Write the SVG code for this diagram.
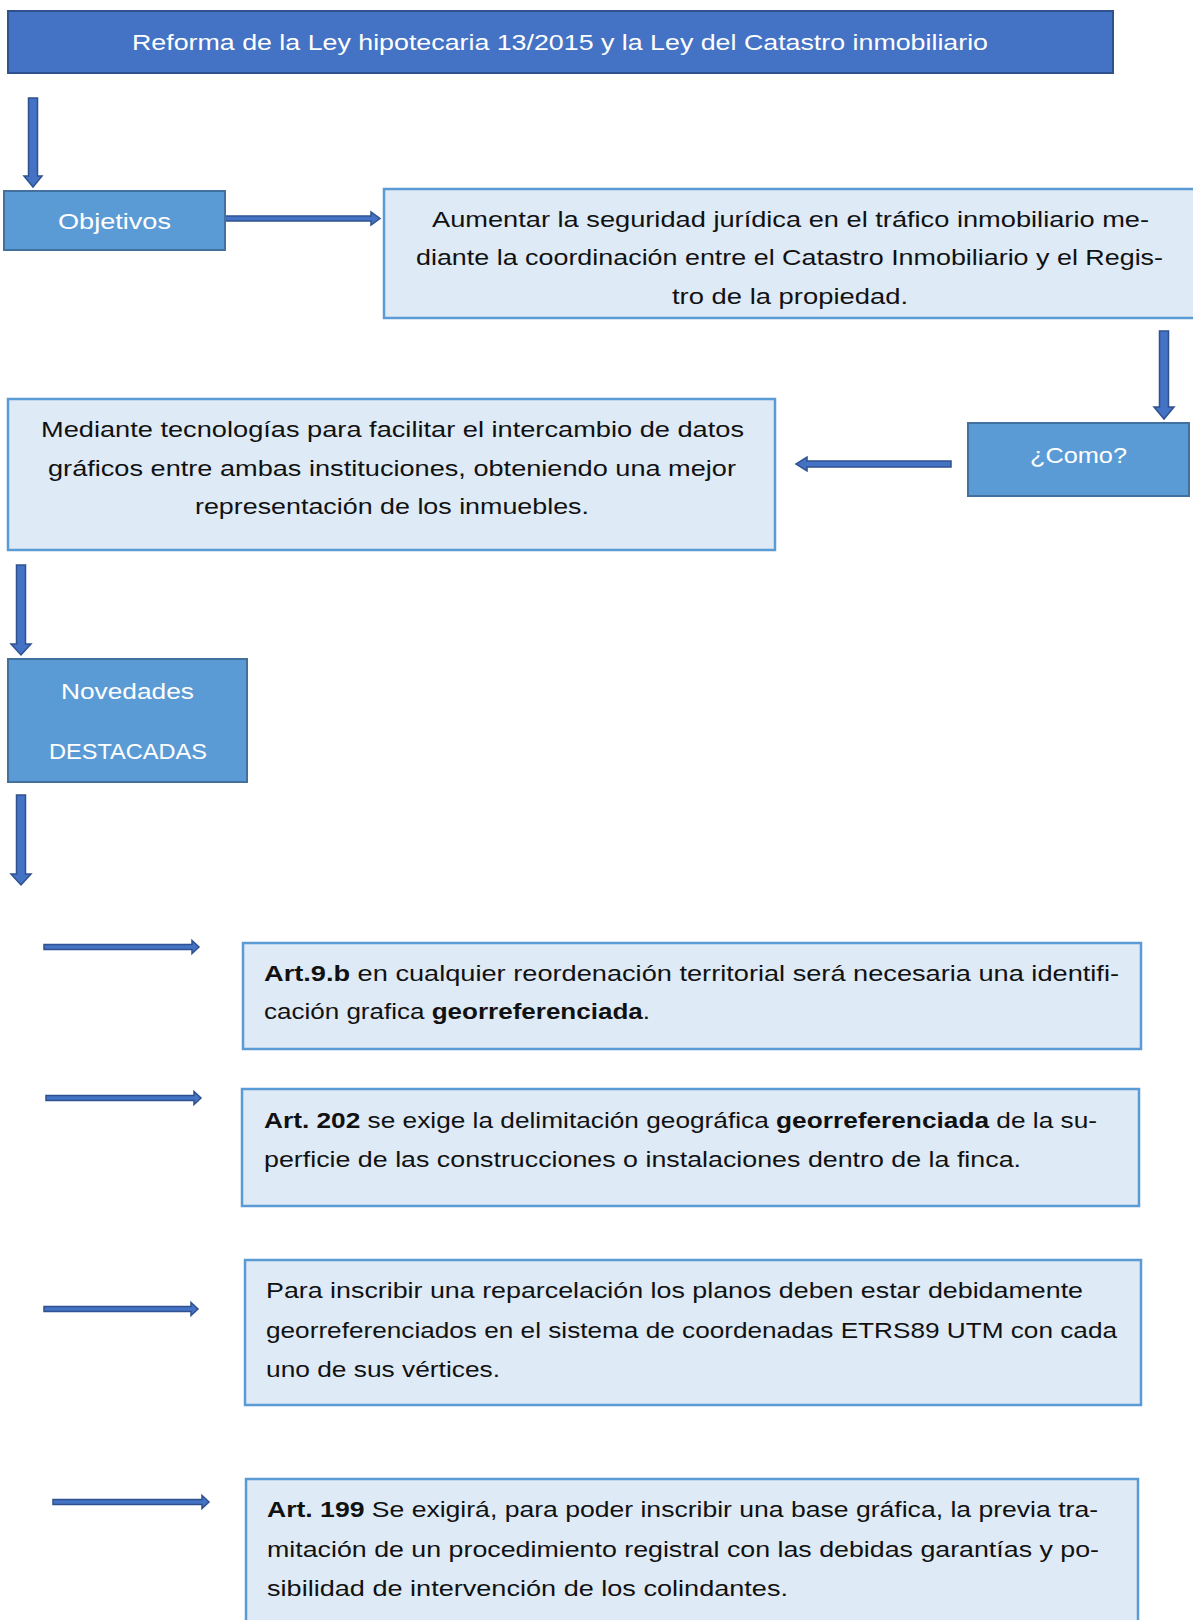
<svg xmlns="http://www.w3.org/2000/svg" width="1193" height="1620" viewBox="0 0 1193 1620">
<style>
.dark{fill:#4472C4;stroke:#2F528F;stroke-width:2}
.mid{fill:#5B9BD5;stroke:#41719C;stroke-width:2}
.light{fill:#DEEAF6;stroke:#5B9BD5;stroke-width:2.5}
.arr{fill:#4472C4;stroke:#2F528F;stroke-width:1.5}
text{font-family:"Liberation Sans","Noto Sans",Arial,sans-serif;font-size:22.5px}
.w{fill:#FFFFFF}
.k{fill:#111111}
.c{text-anchor:middle}
.b{font-weight:bold}
</style>
<rect width="1193" height="1620" fill="#FFFFFF"/>
<g id="connectors">
<polygon class="arr" points="28.5,98 37.5,98 37.5,176 42,176 33,187 24,176 28.5,176"/>
<polygon class="arr" points="225,216 371,216 371,212 380,218.5 371,225 371,221 225,221"/>
<polygon class="arr" points="1159.5,331 1168.5,331 1168.5,407 1174,407 1164,419 1154,407 1159.5,407"/>
<polygon class="arr" points="951,461 807,461 807,457 796,464 807,471 807,467 951,467"/>
<polygon class="arr" points="16.5,565 25.5,565 25.5,644 31,644 21,655 11,644 16.5,644"/>
<polygon class="arr" points="16.5,795 25.5,795 25.5,874 31,874 21,885 11,874 16.5,874"/>
<polygon class="arr" points="44,944.5 192,944.5 192,940.5 199,947 192,953.5 192,949.5 44,949.5"/>
<polygon class="arr" points="46,1095.5 194,1095.5 194,1091.5 201,1098 194,1104.5 194,1100.5 46,1100.5"/>
<polygon class="arr" points="44,1306.5 191,1306.5 191,1302.5 198,1309 191,1315.5 191,1311.5 44,1311.5"/>
<polygon class="arr" points="53,1499.5 202,1499.5 202,1495.5 209,1502 202,1508.5 202,1504.5 53,1504.5"/>
</g>
<g id="title">
<rect class="dark" x="8" y="11" width="1105" height="62"/>
<text class="w" x="132" y="50" textLength="856" lengthAdjust="spacingAndGlyphs" font-size="24">Reforma de la Ley hipotecaria 13/2015 y la Ley del Catastro inmobiliario</text>
</g>
<g id="objetivos">
<rect class="mid" x="4" y="191" width="221" height="59"/>
<text class="w" x="58" y="229" textLength="113" lengthAdjust="spacingAndGlyphs">Objetivos</text>
</g>
<g id="aumentar">
<rect class="light" x="384" y="189" width="812" height="129"/>
<text class="k" x="432" y="227" textLength="717" lengthAdjust="spacingAndGlyphs">Aumentar la seguridad jurídica en el tráfico inmobiliario me-</text>
<text class="k" x="416" y="265" textLength="747" lengthAdjust="spacingAndGlyphs">diante la coordinación entre el Catastro Inmobiliario y el Regis-</text>
<text class="k" x="672" y="304" textLength="236" lengthAdjust="spacingAndGlyphs">tro de la propiedad.</text>
</g>
<g id="como">
<rect class="mid" x="968" y="423" width="221" height="73"/>
<text class="w" x="1030" y="463" textLength="97" lengthAdjust="spacingAndGlyphs">¿Como?</text>
</g>
<g id="mediante">
<rect class="light" x="8" y="399" width="767" height="151"/>
<text class="k" x="41" y="437" textLength="703" lengthAdjust="spacingAndGlyphs">Mediante tecnologías para facilitar el intercambio de datos</text>
<text class="k" x="48" y="476" textLength="688" lengthAdjust="spacingAndGlyphs">gráficos entre ambas instituciones, obteniendo una mejor</text>
<text class="k" x="195" y="514" textLength="394" lengthAdjust="spacingAndGlyphs">representación de los inmuebles.</text>
</g>
<g id="novedades">
<rect class="mid" x="8" y="659" width="239" height="123"/>
<text class="w" x="61" y="699" textLength="133" lengthAdjust="spacingAndGlyphs">Novedades</text>
<text class="w" x="49" y="759" textLength="158" lengthAdjust="spacingAndGlyphs">DESTACADAS</text>
</g>
<g id="art9b">
<rect class="light" x="243" y="943" width="898" height="106"/>
<text class="k" x="264" y="981" textLength="855" lengthAdjust="spacingAndGlyphs"><tspan class="b">Art.9.b</tspan> en cualquier reordenación territorial será necesaria una identifi-</text>
<text class="k" x="264" y="1019" textLength="386" lengthAdjust="spacingAndGlyphs">cación grafica <tspan class="b">georreferenciada</tspan>.</text>
</g>
<g id="art202">
<rect class="light" x="242" y="1089" width="897" height="117"/>
<text class="k" x="264" y="1128" textLength="833" lengthAdjust="spacingAndGlyphs"><tspan class="b">Art. 202</tspan> se exige la delimitación geográfica <tspan class="b">georreferenciada</tspan> de la su-</text>
<text class="k" x="264" y="1167" textLength="757" lengthAdjust="spacingAndGlyphs">perficie de las construcciones o instalaciones dentro de la finca.</text>
</g>
<g id="reparcelacion">
<rect class="light" x="245" y="1260" width="896" height="145"/>
<text class="k" x="266" y="1298" textLength="817" lengthAdjust="spacingAndGlyphs">Para inscribir una reparcelación los planos deben estar debidamente</text>
<text class="k" x="266" y="1338" textLength="851" lengthAdjust="spacingAndGlyphs">georreferenciados en el sistema de coordenadas ETRS89 UTM con cada</text>
<text class="k" x="266" y="1377" textLength="234" lengthAdjust="spacingAndGlyphs">uno de sus vértices.</text>
</g>
<g id="art199">
<rect class="light" x="246" y="1479" width="892" height="160"/>
<text class="k" x="267" y="1517" textLength="831" lengthAdjust="spacingAndGlyphs"><tspan class="b">Art. 199</tspan> Se exigirá, para poder inscribir una base gráfica, la previa tra-</text>
<text class="k" x="267" y="1557" textLength="832" lengthAdjust="spacingAndGlyphs">mitación de un procedimiento registral con las debidas garantías y po-</text>
<text class="k" x="267" y="1596" textLength="521" lengthAdjust="spacingAndGlyphs">sibilidad de intervención de los colindantes.</text>
</g>
</svg>
